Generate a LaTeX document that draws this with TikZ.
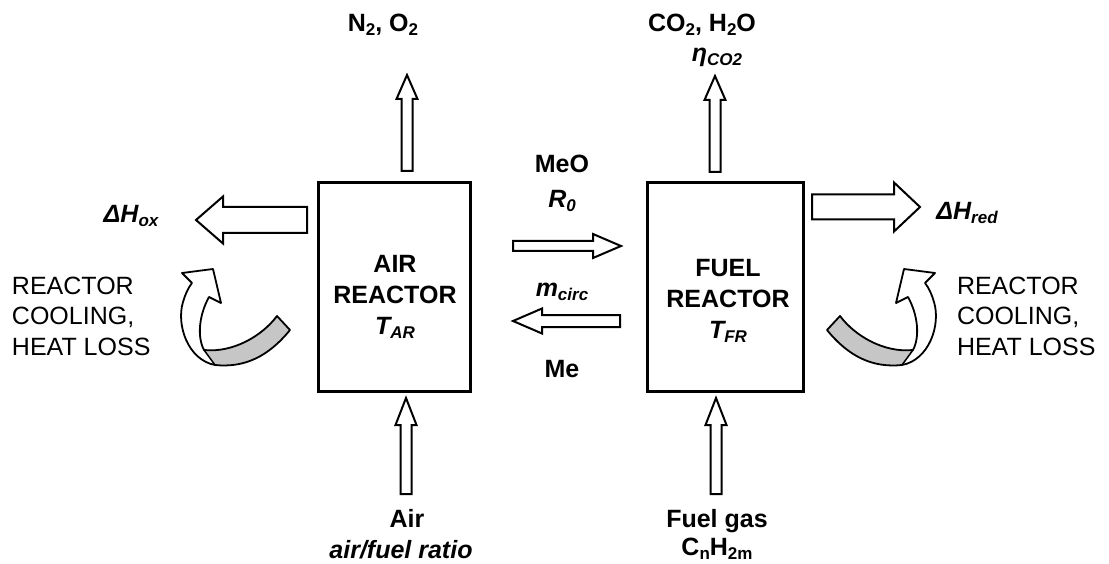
\documentclass[tikz,border=0pt]{standalone}
\usepackage{fontspec}
\setmainfont{Liberation Sans}
\usetikzlibrary{calc}
\newcommand\sbs[1]{\raisebox{-4pt}{\fontsize{17}{17}\selectfont #1}}
\begin{document}
\begin{tikzpicture}[x=1pt,y=-1pt,
  every node/.style={inner sep=0pt,outer sep=0pt},
  box/.style={draw,line width=3pt},
  bf/.style={font=\fontsize{25}{31}\selectfont\bfseries},
  bfi/.style={font=\fontsize{25}{31}\selectfont\bfseries\itshape},
  rg/.style={font=\fontsize{25}{30.5}\selectfont},
  curlband/.style={fill=gray!45},
  curlline/.style={line width=1.8pt, line join=round},
  blockarrow/.style n args={3}{draw, fill=white, line width=2pt, line join=miter,
    to path={
      ($(\tikztotarget)!#3!(\tikztostart)$) coordinate (bah)
      ($(\tikztostart)!#1!90:(\tikztotarget)$) -- ($(bah)!#1!-90:(\tikztostart)$)
      -- ($(bah)!#2!-90:(\tikztostart)$) -- (\tikztotarget)
      -- ($(bah)!#2!90:(\tikztostart)$) -- ($(bah)!#1!90:(\tikztostart)$)
      -- ($(\tikztostart)!#1!-90:(\tikztotarget)$) -- cycle
    }}
]
\useasboundingbox (0,0) rectangle (1109,564);

% reactors
\node[box, minimum width=152pt, minimum height=208pt] (ar) at (394,287) {};
\node[box, minimum width=156pt, minimum height=208pt] (fr) at (725,287) {};
\node[bf, align=center, anchor=north] (art) at (395,255) {AIR\\REACTOR\\{\itshape T\sbs{AR}}};
\node[bf, align=center, anchor=north] (frt) at (728,259) {FUEL\\REACTOR\\{\itshape T\sbs{FR}}};

% top labels
\node[bf, anchor=base] (no) at (383,32) {N\sbs{2}, O\sbs{2}};
\node[bf, anchor=base] (coh) at (702,32) {CO\sbs{2}, H\sbs{2}O};
\node[bfi, anchor=base] (eta) at (717,62) {η\sbs{CO2}};

% middle labels
\node[bf, anchor=base] (meo) at (562,173) {MeO};
\node[bfi, anchor=base] (rz) at (562,208) {R\sbs{0}};
\node[bfi, anchor=base] (mc) at (562,297) {m\sbs{circ}};
\node[bf, anchor=base] (me) at (562,377) {Me};

% heat labels
\node[bfi, anchor=base] (hox) at (131,223) {ΔH\sbs{ox}};
\node[bfi, anchor=base] (hred) at (967,220) {ΔH\sbs{red}};
\node[rg, align=left, anchor=north west] (cl) at (12,277) {REACTOR\\COOLING,\\HEAT LOSS};
\node[rg, align=left, anchor=north west] (cr) at (957,277) {REACTOR\\COOLING,\\HEAT LOSS};

% bottom labels
\node[bf, anchor=base] (air) at (407,527) {Air};
\node[bfi, anchor=base] (afr) at (401,558) {air/fuel ratio};
\node[bf, anchor=base] (fg) at (717,527) {Fuel gas};
\node[bf, anchor=base] (cnh) at (717,555) {C\sbs{n}H\sbs{2m}};

% arrow end points
\coordinate (at0) at (407,171); \coordinate (at1) at (407,75);
\coordinate (ft0) at (715,172); \coordinate (ft1) at (715,76);
\coordinate (ab0) at (406,494); \coordinate (ab1) at (406,398);
\coordinate (fb0) at (716,494); \coordinate (fb1) at (716,398);
\coordinate (mo0) at (513,246); \coordinate (mo1) at (621,246);
\coordinate (mr0) at (620,321); \coordinate (mr1) at (513,321);
\coordinate (hl0) at (307,220); \coordinate (hl1) at (196,220);
\coordinate (hr0) at (812,207); \coordinate (hr1) at (920,207);

\draw[blockarrow={5.5pt}{10.5pt}{24pt}] (at0) to (at1);
\draw[blockarrow={5.5pt}{10.5pt}{24pt}] (ft0) to (ft1);
\draw[blockarrow={5.5pt}{10.5pt}{27pt}] (ab0) to (ab1);
\draw[blockarrow={5.5pt}{10.5pt}{27pt}] (fb0) to (fb1);
\draw[blockarrow={5pt}{12pt}{28pt}] (mo0) to (mo1);
\draw[blockarrow={6pt}{12.5pt}{29pt}] (mr0) to (mr1);
\draw[blockarrow={13pt}{23.5pt}{27pt}] (hl0) to (hl1);
\draw[blockarrow={12.5pt}{24.5pt}{26pt}] (hr0) to (hr1);

% curled heat-loss arrow, left
\fill[curlband] (204,350) .. controls (233,353) and (262,336) .. (277,316) -- (290,330) .. controls (268,357) and (244,368) .. (215,365) -- cycle;
\draw[curlline] (213,269) -- (221,303) -- (209,297) .. controls (199,315) and (197,337) .. (204,350) .. controls (233,353) and (262,336) .. (277,316) -- (290,330) .. controls (268,357) and (244,368) .. (215,365) .. controls (188,360) and (176,325) .. (183,302) .. controls (185,295) and (188,288) .. (192,283) -- (182,273) -- cycle;
\draw[curlline, line width=1.5pt] (204,350) -- (215,365);

% curled heat-loss arrow, right (mirror image)
\fill[curlband] (913,350) .. controls (884,353) and (855,336) .. (840,316) -- (827,330) .. controls (849,357) and (873,368) .. (902,365) -- cycle;
\draw[curlline] (904,269) -- (896,303) -- (908,297) .. controls (918,315) and (920,337) .. (913,350) .. controls (884,353) and (855,336) .. (840,316) -- (827,330) .. controls (849,357) and (873,368) .. (902,365) .. controls (929,360) and (941,325) .. (934,302) .. controls (932,295) and (929,288) .. (925,283) -- (935,273) -- cycle;
\draw[curlline, line width=1.5pt] (913,350) -- (902,365);
\end{tikzpicture}
\end{document}
